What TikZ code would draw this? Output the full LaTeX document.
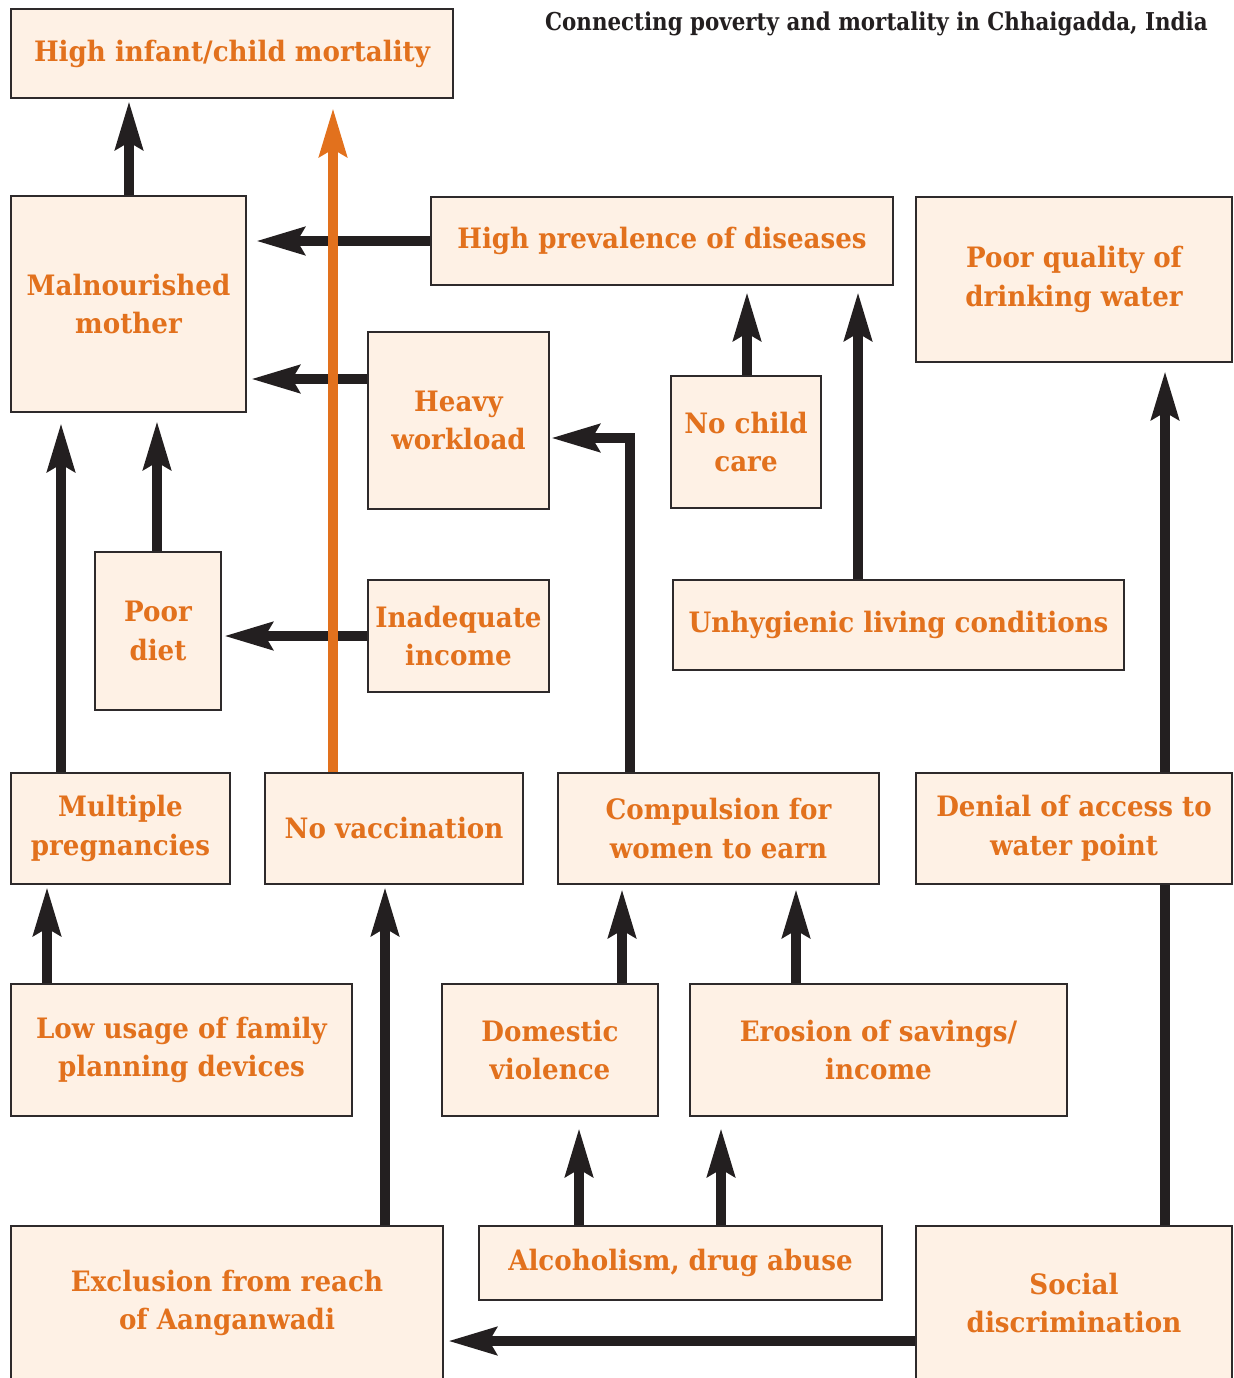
\documentclass[tikz,border=0pt]{standalone}
\usepackage{fontspec}
\setmainfont{DejaVu Serif}
\newfontfamily\boxfont{DejaVu Serif}[FakeStretch=0.93]
\newfontfamily\titlefont{DejaVu Serif}[FakeStretch=0.87]
\usepackage{tikz}
\usetikzlibrary{arrows.meta}

\definecolor{boxfill}{HTML}{FEF1E5}
\definecolor{boxline}{HTML}{2E2A2B}
\definecolor{ink}{HTML}{231F20}
\definecolor{rust}{HTML}{E2711D}

\tikzset{
    box/.style={draw=boxline, fill=boxfill, line width=1.2pt, text=rust, align=center,
        inner sep=0pt, font=\boxfont\bfseries\fontsize{16pt}{22pt}\selectfont},
    arr/.style={draw=ink, line width=0.2cm, -{Stealth[length=0.96cm,width=0.54cm,inset=0.14cm]}},
    hotarr/.style={arr, draw=rust},
    link/.style={draw=ink, line width=0.2cm}
}

\begin{document}
\begin{tikzpicture}[x=0.02cm, y=-0.02cm]

    \useasboundingbox (0,0) rectangle (1233,1378);
    \clip (0,0) rectangle (1233,1378);

    \node[anchor=north east, font=\titlefont\bfseries\fontsize{14pt}{16pt}\selectfont, text=ink, inner sep=0pt] (title) at (1208,11) {Connecting poverty and mortality in Chhaigadda, India};

    \node[box, minimum width=442*0.02cm, minimum height=89*0.02cm] (mort) at (232,53.5) {High infant/child mortality};
    \node[box, minimum width=235*0.02cm, minimum height=216*0.02cm] (malnour) at (128.5,304) {Malnourished\\mother};
    \node[box, minimum width=462*0.02cm, minimum height=88*0.02cm] (disease) at (662,241) {High prevalence of diseases};
    \node[box, minimum width=316*0.02cm, minimum height=165*0.02cm] (water) at (1074,279.5) {Poor quality of\\drinking water};
    \node[box, minimum width=181*0.02cm, minimum height=177*0.02cm] (workload) at (458.5,420.5) {Heavy\\workload};
    \node[box, minimum width=150*0.02cm, minimum height=132*0.02cm] (childcare) at (746,442) {No child\\care};
    \node[box, minimum width=126*0.02cm, minimum height=158*0.02cm] (diet) at (158,631) {Poor\\diet};
    \node[box, minimum width=181*0.02cm, minimum height=112*0.02cm] (income) at (458.5,636) {Inadequate\\income};
    \node[box, minimum width=451*0.02cm, minimum height=90*0.02cm] (unhyg) at (898.5,625) {Unhygienic living conditions};

    \node[box, minimum width=219*0.02cm, minimum height=111*0.02cm] (pregn) at (120.5,828.5) {Multiple\\pregnancies};
    \node[box, minimum width=258*0.02cm, minimum height=111*0.02cm] (vacc) at (394,828.5) {No vaccination};
    \node[box, minimum width=321*0.02cm, minimum height=111*0.02cm] (compul) at (718.5,828.5) {Compulsion for\\women to earn};
    \node[box, minimum width=316*0.02cm, minimum height=111*0.02cm] (denial) at (1074,828.5) {Denial of access to\\water point};

    \node[box, minimum width=341*0.02cm, minimum height=132*0.02cm] (family) at (181.5,1050) {Low usage of family\\planning devices};
    \node[box, minimum width=216*0.02cm, minimum height=132*0.02cm] (domestic) at (550,1050) {Domestic\\violence};
    \node[box, minimum width=377*0.02cm, minimum height=132*0.02cm] (erosion) at (878.5,1050) {Erosion of savings/\\income};

    \node[box, minimum width=432*0.02cm, minimum height=154*0.02cm] (exclusion) at (227,1303) {Exclusion from reach\\of Aanganwadi};
    \node[box, minimum width=403*0.02cm, minimum height=74*0.02cm] (alcohol) at (680.5,1263) {Alcoholism, drug abuse};
    \node[box, minimum width=316*0.02cm, minimum height=154*0.02cm] (social) at (1074,1303) {Social\\discrimination};

    \foreach \n/\x in {47/47,61/61,129/129,157/157,333/333,385/385,579/579,622/622,630/630,721/721,747/747,796/796,858/858,1165/1165}
        \coordinate (col\n) at (\x,0);
    \foreach \n/\y in {379/379,438/438,1341/1341}
        \coordinate (row\n) at (0,\y);

    \draw[arr, shorten >=0.04cm] (malnour.north -| col129) -- (mort.south -| col129);
    \draw[arr, shorten >=0.18cm] (disease.west) -- (malnour.east |- disease.west);
    \draw[arr, shorten >=0.08cm] (workload.west |- row379) -- (malnour.east |- row379);
    \draw[arr, shorten >=0.2cm] (pregn.north -| col61) -- (malnour.south -| col61);
    \draw[arr, shorten >=0.16cm] (diet.north -| col157) -- (malnour.south -| col157);
    \draw[arr, shorten >=0.04cm] (income.west) -- (diet.east |- income.west);
    \draw[arr, shorten >=0.02cm] (compul.north -| col630) |- (workload.east |- row438);
    \draw[arr, shorten >=0.12cm] (childcare.north -| col747) -- (disease.south -| col747);
    \draw[arr, shorten >=0.12cm] (unhyg.north -| col858) -- (disease.south -| col858);
    \draw[arr, shorten >=0.16cm] (denial.north -| col1165) -- (water.south -| col1165);

    \draw[arr, shorten >=0.04cm] (family.north -| col47) -- (pregn.south -| col47);
    \draw[arr, shorten >=0.04cm] (exclusion.north -| col385) -- (vacc.south -| col385);
    \draw[arr, shorten >=0.08cm] (domestic.north -| col622) -- (compul.south -| col622);
    \draw[arr, shorten >=0.08cm] (erosion.north -| col796) -- (compul.south -| col796);
    \draw[arr, shorten >=0.22cm] (alcohol.north -| col579) -- (domestic.south -| col579);
    \draw[arr, shorten >=0.22cm] (alcohol.north -| col721) -- (erosion.south -| col721);
    \draw[link] (social.north -| col1165) -- (denial.south -| col1165);
    \draw[arr, shorten >=0.08cm] (social.west |- row1341) -- (exclusion.east |- row1341);

    \draw[hotarr, shorten >=0.18cm] (vacc.north -| col333) -- (mort.south -| col333);

\end{tikzpicture}
\end{document}
